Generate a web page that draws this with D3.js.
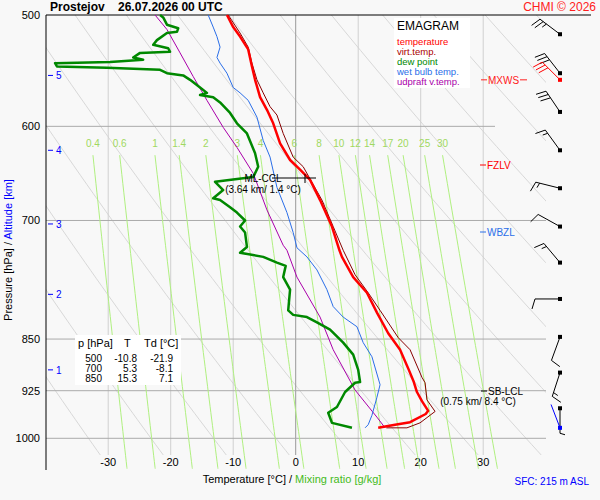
<!DOCTYPE html>
<html><head><meta charset="utf-8">
<script src="https://cdn.jsdelivr.net/npm/d3@7"></script>
<style>body{margin:0;background:#f8f8f8}svg{font-family:"Liberation Sans",Arial,sans-serif}</style>
</head><body>
<script>
// sounding data [pressure hPa, value °C]
var tempP = [983, 978, 974, 961, 956, 941, 927, 912, 894, 865, 842, 814, 788, 768, 743, 735, 707, 677, 655, 644, 634, 617, 597, 584, 572, 556, 544, 529, 518, 510, 500];
var tempT = [13.2, 15.9, 18.3, 20.8, 21.2, 20.2, 19.4, 18.9, 18.1, 16.7, 14.8, 13.0, 11.4, 9.2, 7.4, 7.0, 5.8, 3.9, 2.3, 0.7, -0.9, -2.5, -3.6, -4.6, -5.7, -6.5, -7.0, -7.6, -8.9, -10.0, -11.0];
var virtP = [983, 983, 975, 957, 939, 913, 905, 865, 848, 811, 788, 765, 735, 707, 677, 641, 631, 607, 589, 581, 568, 556, 541, 527, 515, 500];
var virtT = [14.5, 17.8, 19.9, 22.3, 21.0, 20.7, 20.2, 18.3, 16.4, 13.5, 11.6, 9.5, 7.6, 6.0, 4.2, 1.2, -0.4, -2.0, -3.0, -4.1, -5.2, -6.2, -7.0, -7.6, -8.9, -10.8];
var dewP = [983, 975, 959, 950, 927, 913, 912, 894, 872, 855, 837, 827, 820, 817, 811, 784, 768, 754, 750, 743, 738, 731, 714, 707, 700, 691, 685, 677, 675, 666, 657, 652, 641, 627, 607, 597, 587, 577, 572, 570, 568, 563, 556, 552, 550, 547, 545, 544, 541, 540, 538, 536, 532, 531, 528, 525, 521, 515, 514, 511, 508, 502, 500];
var dewT = [9.0, 5.8, 5.2, 6.6, 7.9, 9.5, 10.3, 10.0, 9.2, 7.6, 5.5, 3.4, 1.8, -0.4, -1.2, -0.9, -2.0, -1.6, -3.0, -5.2, -8.9, -7.8, -8.1, -8.9, -8.1, -9.4, -10.5, -12.1, -13.2, -11.6, -12.9, -6.8, -6.0, -6.5, -7.8, -9.4, -10.5, -12.1, -13.2, -15.3, -14.2, -15.3, -16.9, -18.0, -20.6, -21.7, -30.2, -38.2, -38.5, -29.7, -24.4, -26.0, -24.9, -20.1, -20.4, -22.8, -22.2, -20.6, -19.0, -18.8, -20.6, -21.2, -21.7];
var wetP = [983, 978, 963, 935, 916, 875, 855, 833, 820, 806, 784, 759, 743, 732, 714, 691, 663, 631, 614, 591, 575, 568, 563, 550, 541, 536, 527, 518, 510, 500];
var wetT = [11.1, 11.6, 12.2, 13.0, 13.5, 12.2, 10.8, 9.8, 7.6, 6.0, 5.0, 3.4, 1.8, 0.2, -0.4, -1.4, -3.0, -4.1, -5.2, -6.2, -7.6, -8.9, -10.0, -11.0, -12.1, -12.6, -12.1, -12.6, -13.2, -14.0];
var parcelP = [983, 966, 924, 865, 820, 768, 735, 729, 688, 648, 621, 601, 575, 553, 532, 512, 500];
var parcelT = [14.3, 13.0, 9.5, 6.0, 3.9, 0.2, -1.4, -2.0, -4.6, -6.8, -9.4, -11.6, -14.2, -16.4, -18.5, -20.6, -22.5];
// winds
var windP = [516, 550, 586, 624, 664, 707, 750, 796, 847, 898, 952];
var windDir = [307, 322, 326, 324, 284, 299, 320, 270, 200, 198, 180];
var windKt = [25, 30, 30, 15, 15, 10, 15, 10, 10, 15, 5];
var mxwsP = 556, mxwsDir = 315, mxwsKt = 30;
var sfcP = 983, sfcDir = 339, sfcKt = 0;
// axes
var isobars = [500, 600, 700, 850, 925, 1000];
var isotherms = [-30, -20, -10, 0, 10, 20, 30];
var mixRatios = [0.4, 0.6, 1, 1.4, 2, 3, 4, 6, 8, 10, 12, 14, 17, 20, 25, 30];
var altKm = [1, 2, 3, 4, 5];
var altP = [894, 790, 704, 624, 552];
var tableRows = [['500', '-10.8', '-21.9'], ['700', '5.3', '-8.1'], ['850', '15.3', '7.1']];

var W = 600, H = 500;
var x = d3.scaleLinear().domain([-40, 40]).range([45.7, 545.7]);
var y = d3.scaleLog().domain([500, 1000]).range([15, 438.3]);
var svg = d3.select('body').append('svg').attr('width', W).attr('height', H);
svg.append('rect').attr('width', W).attr('height', H).attr('fill', '#f8f8f8');
svg.append('clipPath').attr('id', 'clip').append('rect')
  .attr('x', 46).attr('y', 15).attr('width', 500).attr('height', 440);

var g = svg.append('g');
// dry adiabats
var adiab = g.append('g').attr('clip-path', 'url(#clip)');
var plevs = d3.range(480, 1060, 10);
for (var th = 230; th <= 470; th += 10) {
  adiab.append('path').datum(plevs)
    .attr('d', d3.line().x(function(p) { return x(th * Math.pow(p / 1000, 0.286) - 273.15); }).y(function(p) { return y(p); }))
    .attr('fill', 'none').attr('stroke', '#d8d8d8').attr('stroke-width', 1);
}
// isotherms
isotherms.forEach(function(t) {
  g.append('line').attr('x1', x(t)).attr('x2', x(t)).attr('y1', 15).attr('y2', 455)
    .attr('stroke', t === 0 ? '#999' : '#d0d0d0').attr('stroke-width', 1);
  g.append('text').attr('x', x(t)).attr('y', 466).attr('text-anchor', 'middle')
    .attr('font-size', 11).text(t);
});
// isobars
isobars.forEach(function(p) {
  if (p !== 500) {
    g.append('line').attr('x1', 46).attr('x2', p === 600 ? 495 : 546).attr('y1', y(p)).attr('y2', y(p))
      .attr('stroke', '#aaa');
  }
  g.append('text').attr('x', 40).attr('y', y(p) + 4).attr('text-anchor', 'end')
    .attr('font-size', 11).text(p);
});
// mixing ratio lines
function dewFromW(w, p) {
  var e = w * p / (622 + w);
  var l = Math.log(e / 6.112);
  return 243.5 * l / (17.67 - l);
}
var mixP = d3.range(629, 1052, 10).concat([1051]);
mixRatios.forEach(function(w) {
  g.append('path').datum(mixP)
    .attr('d', d3.line().x(function(p) { return x(dewFromW(w, p)); }).y(function(p) { return y(p); }))
    .attr('fill', 'none').attr('stroke', '#b0f080').attr('stroke-width', 1);
  g.append('text').attr('x', x(dewFromW(w, 629))).attr('y', 147).attr('text-anchor', 'middle')
    .attr('font-size', 10).attr('fill', '#a0d860').text(w);
});
// axes frame
g.append('line').attr('x1', 46).attr('x2', 46).attr('y1', 15).attr('y2', 470).attr('stroke', '#000');
g.append('line').attr('x1', 46).attr('x2', 591).attr('y1', 15).attr('y2', 15).attr('stroke', '#000');
// altitude
altKm.forEach(function(k, i) {
  g.append('line').attr('x1', 48).attr('x2', 53).attr('y1', y(altP[i])).attr('y2', y(altP[i])).attr('stroke', '#00f');
  g.append('text').attr('x', 56).attr('y', y(altP[i]) + 4).attr('font-size', 10).attr('fill', '#00f').text(k);
});

// profiles
function profile(ps, ts, color, width) {
  g.append('path').datum(d3.zip(ps, ts))
    .attr('d', d3.line().x(function(d) { return x(d[1]); }).y(function(d) { return y(d[0]); }))
    .attr('fill', 'none').attr('stroke', color).attr('stroke-width', width).attr('stroke-linejoin', 'round');
}
profile(parcelP, parcelT, '#aa00aa', 1);
profile(wetP, wetT, '#2a6ee8', 1);
profile(dewP, dewT, '#008800', 2.5);
profile(virtP, virtT, '#880000', 1);
profile(tempP, tempT, '#ff0000', 2.5);

// legend
var lg = g.append('g');
lg.append('rect').attr('x', 394).attr('y', 18).attr('width', 76).attr('height', 70).attr('fill', '#fff');
lg.append('text').attr('x', 397).attr('y', 30).attr('font-size', 12).text('EMAGRAM');
[['temperature', '#ff0000'], ['virt.temp.', '#aa0000'], ['dew point', '#008800'], ['wet bulb temp.', '#2a6ee8'], ['udpraft v.temp.', '#aa00aa']]
  .forEach(function(d, i) {
    lg.append('text').attr('x', 397).attr('y', 45 + i * 10).attr('font-size', 9.5).attr('fill', d[1]).text(d[0]);
  });

// table
var tb = g.append('g');
tb.append('rect').attr('x', 75).attr('y', 335).attr('width', 106).attr('height', 50).attr('fill', '#fff');
tb.append('text').attr('x', 78).attr('y', 347).attr('font-size', 11).text('p [hPa]');
tb.append('text').attr('x', 124).attr('y', 347).attr('font-size', 11).text('T');
tb.append('text').attr('x', 144).attr('y', 347).attr('font-size', 11).text('Td [°C]');
tableRows.forEach(function(r, i) {
  var yy = 362 + i * 10;
  tb.append('text').attr('x', 102).attr('y', yy).attr('text-anchor', 'end').attr('font-size', 10).text(r[0]);
  tb.append('text').attr('x', 137).attr('y', yy).attr('text-anchor', 'end').attr('font-size', 10).text(r[1]);
  tb.append('text').attr('x', 173).attr('y', yy).attr('text-anchor', 'end').attr('font-size', 10).text(r[2]);
});

// levels
function levelMark(px, py, label, color) {
  g.append('line').attr('x1', px - 7).attr('x2', px - 1).attr('y1', py).attr('y2', py).attr('stroke', color);
  g.append('text').attr('x', px).attr('y', py + 4).attr('font-size', 10).attr('fill', color).text(label);
}
levelMark(488, y(mxwsP), 'MXWS', '#ff2020');
g.append('line').attr('x1', 520).attr('x2', 527).attr('y1', y(mxwsP)).attr('y2', y(mxwsP)).attr('stroke', '#ff2020');
levelMark(487, 165, 'FZLV', '#ff0000');
levelMark(487, 232, 'WBZL', '#2a6ee8');
levelMark(488, 391, 'SB-LCL', '#000');
g.append('text').attr('x', 478).attr('y', 405).attr('text-anchor', 'middle').attr('font-size', 10).text('(0.75 km/ 8.4 °C)');
g.append('line').attr('x1', 272).attr('x2', 316).attr('y1', 178).attr('y2', 178).attr('stroke', '#000');
g.append('line').attr('x1', 305).attr('x2', 305).attr('y1', 174).attr('y2', 183).attr('stroke', '#000');
g.append('text').attr('x', 263).attr('y', 182).attr('text-anchor', 'middle').attr('font-size', 10).text('ML-CCL');
g.append('text').attr('x', 263).attr('y', 193).attr('text-anchor', 'middle').attr('font-size', 10).text('(3.64 km/ 1.4 °C)');

// wind barbs
function barb(p, dir, kt, color) {
  var bx = 560, by = y(p), L = 25;
  var a = dir * Math.PI / 180;
  var dx = Math.sin(a), dy = -Math.cos(a);
  var px = -dy, py = dx;
  var bg = g.append('g').attr('stroke', color).attr('fill', 'none');
  bg.append('rect').attr('x', bx - 2).attr('y', by - 2).attr('width', 4).attr('height', 4).attr('fill', color).attr('stroke', 'none');
  bg.append('line').attr('x1', bx).attr('y1', by).attr('x2', bx + dx * L).attr('y2', by + dy * L);
  if (kt === 0) return;
  var n = Math.floor(kt / 10), half = (kt % 10) >= 5, pos = L;
  for (var i = 0; i < n; i++) {
    var sx = bx + dx * pos, sy = by + dy * pos;
    bg.append('line').attr('x1', sx).attr('y1', sy).attr('x2', sx - px * 10 + dx * 3).attr('y2', sy - py * 10 + dy * 3);
    pos -= 4;
  }
  if (half) {
    var hx = bx + dx * pos, hy = by + dy * pos;
    bg.append('line').attr('x1', hx).attr('y1', hy).attr('x2', hx - px * 5 + dx * 1.5).attr('y2', hy - py * 5 + dy * 1.5);
  }
}
windP.forEach(function(p, i) { barb(p, windDir[i], windKt[i], '#000'); });
barb(mxwsP, mxwsDir, mxwsKt, '#ff0000');
barb(sfcP, sfcDir, sfcKt, '#0000ff');

// titles
svg.append('text').attr('x', 50).attr('y', 11).attr('font-size', 12).attr('font-weight', 'bold')
  .attr('xml:space', 'preserve').text('Prostejov    26.07.2026 00 UTC');
svg.append('text').attr('x', 596).attr('y', 11).attr('text-anchor', 'end').attr('font-size', 12)
  .attr('fill', '#ff2020').text('CHMI © 2026');
var yl = svg.append('text').attr('transform', 'translate(12,250) rotate(-90)').attr('text-anchor', 'middle').attr('font-size', 11);
yl.append('tspan').text('Pressure [hPa]  /  ');
yl.append('tspan').attr('fill', '#0000ff').text('Altitude [km]');
var xl = svg.append('text').attr('x', 292).attr('y', 483).attr('text-anchor', 'middle').attr('font-size', 11);
xl.append('tspan').text('Temperature [°C]  /  ');
xl.append('tspan').attr('fill', '#44bb22').text('Mixing ratio [g/kg]');
svg.append('text').attr('x', 589).attr('y', 485).attr('text-anchor', 'end').attr('font-size', 10)
  .attr('fill', '#0000ff').text('SFC: 215 m ASL');
</script>
</body></html>
